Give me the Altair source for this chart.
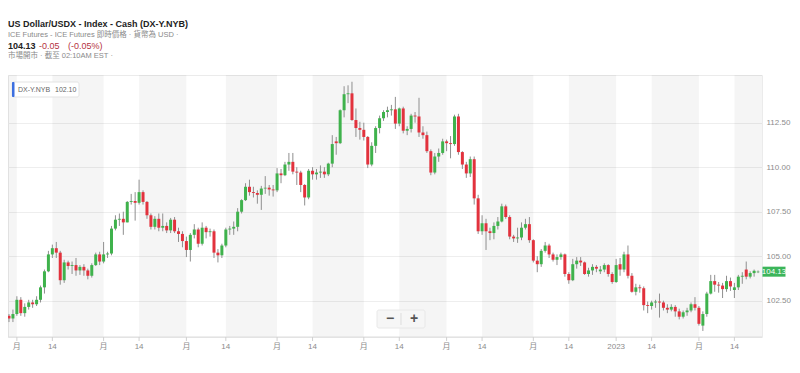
import altair as alt
import pandas as pd

# ---------------- data ----------------
start_day = "2022-05-30"
end_day = "2023-02-22"
closed_days = ["2022-12-26", "2023-01-02"]

open_ = [101.65, 101.50, 101.75, 102.55, 101.80, 102.15, 102.40, 102.30, 102.55, 103.25,
         104.15, 105.10, 105.45, 105.20, 103.65, 104.65, 104.45, 104.50, 104.20, 104.40,
         104.20, 103.90, 104.50, 105.10, 104.70, 105.10, 105.15, 106.55, 107.05, 107.10,
         106.90, 108.05, 108.10, 108.00, 108.60, 108.05, 107.30, 106.65, 107.10, 106.60,
         106.70, 106.45, 107.05, 106.40, 106.25, 105.85, 105.35, 106.20, 106.50, 105.70,
         106.60, 106.35, 106.40, 105.20, 105.05, 105.60, 106.50, 106.55, 106.65, 107.50,
         108.15, 108.90, 108.60, 108.55, 108.45, 108.80, 108.85, 108.75, 108.70, 109.65,
         109.55, 110.15, 110.30, 109.75, 109.70, 109.00, 108.30, 109.80, 109.60, 109.70,
         109.75, 109.60, 110.20, 111.45, 111.35, 113.20, 114.10, 114.15, 112.65, 112.20,
         112.10, 111.70, 110.15, 111.20, 112.20, 112.75, 113.10, 113.20, 113.25, 112.45,
         113.30, 112.05, 112.15, 112.90, 112.85, 111.95, 111.80, 110.90, 109.70, 110.60,
         110.80, 111.45, 111.35, 111.30, 112.85, 110.85, 110.15, 109.65, 110.45, 108.25,
         106.40, 106.85, 106.40, 106.30, 106.70, 106.95, 107.80, 107.20, 106.10, 106.00,
         106.05, 106.60, 106.80, 105.90, 104.75, 104.55, 105.30, 105.60, 105.10, 104.80,
         104.95, 105.10, 104.00, 103.65, 104.55, 104.75, 104.65, 104.00, 104.20, 104.40,
         104.15, 104.25, 104.50, 104.00, 103.55, 104.55, 104.25, 105.10, 103.90, 103.00,
         103.25, 103.20, 102.25, 102.20, 102.40, 102.45, 102.40, 102.10, 102.00, 102.15,
         101.90, 101.60, 101.85, 101.95, 102.30, 102.10, 101.10, 101.75, 102.90, 103.60,
         103.40, 103.35, 103.15, 103.60, 103.10, 103.25, 103.85, 104.25, 103.85, 104.05,
         104.10]
high = [101.75, 102.00, 102.75, 102.70, 102.35, 102.55, 102.55, 102.75, 103.35, 104.25,
        105.30, 105.65, 105.80, 105.30, 104.80, 104.75, 104.70, 104.90, 104.50, 104.55,
        104.30, 104.60, 105.20, 105.25, 105.80, 105.25, 106.70, 107.30, 107.40, 107.50,
        108.10, 108.50, 108.60, 109.30, 108.70, 108.10, 107.40, 107.25, 107.40, 107.40,
        106.90, 107.15, 107.20, 106.60, 106.40, 106.10, 106.30, 106.80, 106.60, 106.90,
        106.70, 106.55, 106.50, 105.40, 105.70, 106.60, 106.70, 106.95, 107.70, 108.20,
        109.10, 109.30, 108.90, 108.70, 108.95, 109.50, 109.00, 109.00, 109.95, 109.90,
        110.30, 110.80, 110.80, 110.00, 109.80, 109.05, 109.90, 110.00, 109.90, 110.10,
        110.00, 110.25, 111.80, 111.70, 113.25, 114.55, 114.60, 114.80, 113.30, 112.55,
        112.50, 111.75, 111.40, 112.30, 112.90, 113.20, 113.40, 113.50, 113.95, 113.35,
        113.40, 112.30, 113.00, 113.10, 113.90, 112.30, 112.00, 111.00, 110.80, 111.05,
        111.60, 111.55, 111.75, 112.95, 113.00, 110.90, 110.30, 110.60, 110.60, 108.45,
        107.30, 107.10, 106.60, 106.90, 107.20, 107.95, 107.90, 107.30, 106.20, 106.60,
        106.90, 107.10, 107.20, 105.95, 105.00, 105.40, 105.80, 105.70, 105.20, 105.10,
        105.20, 105.15, 104.10, 104.85, 104.95, 104.95, 104.70, 104.35, 104.55, 104.50,
        104.45, 104.60, 104.55, 104.10, 104.85, 104.90, 105.25, 105.60, 104.05, 103.45,
        103.40, 103.30, 102.45, 102.50, 102.55, 102.90, 102.50, 102.30, 102.30, 102.25,
        102.05, 101.95, 102.10, 102.40, 102.70, 102.20, 101.90, 103.00, 103.95, 103.95,
        103.55, 103.50, 103.90, 103.80, 103.50, 103.95, 104.10, 104.70, 104.15, 104.25,
        104.20]
low = [101.30, 101.30, 101.65, 101.65, 101.60, 102.00, 102.10, 102.20, 102.40, 102.90,
       104.10, 104.90, 104.90, 103.40, 103.50, 104.25, 104.00, 103.90, 103.95, 103.90,
       103.70, 103.80, 104.45, 104.50, 104.60, 104.90, 105.05, 106.45, 106.70, 106.20,
       106.90, 107.90, 107.00, 107.90, 107.90, 107.10, 106.50, 106.50, 106.40, 106.40,
       106.30, 106.30, 106.30, 105.80, 105.50, 104.95, 104.70, 106.00, 105.50, 105.60,
       106.00, 106.10, 104.90, 104.65, 104.90, 105.50, 106.20, 106.20, 106.40, 107.40,
       108.10, 108.40, 108.30, 107.95, 107.60, 108.50, 108.40, 108.35, 108.60, 109.10,
       109.50, 109.80, 109.60, 109.00, 108.60, 107.85, 108.20, 109.30, 109.30, 109.40,
       109.40, 109.50, 110.00, 110.70, 111.30, 112.80, 113.60, 112.60, 111.70, 111.55,
       111.50, 109.95, 110.05, 110.80, 111.90, 112.60, 112.80, 112.90, 112.15, 112.30,
       111.90, 111.80, 111.95, 112.50, 111.70, 111.60, 110.80, 109.55, 109.60, 110.30,
       110.70, 110.90, 110.50, 111.20, 110.70, 109.90, 109.40, 109.45, 107.90, 106.25,
       106.20, 105.35, 105.90, 105.95, 106.50, 106.90, 107.10, 105.95, 105.80, 105.75,
       105.90, 106.50, 105.75, 104.65, 104.10, 104.40, 105.20, 104.90, 104.70, 104.50,
       104.80, 103.85, 103.45, 103.60, 104.30, 104.45, 103.95, 103.85, 103.95, 104.10,
       104.00, 104.10, 103.85, 103.45, 103.50, 103.90, 104.10, 103.75, 102.95, 102.80,
       102.95, 101.95, 101.80, 102.00, 102.10, 101.55, 101.95, 101.80, 101.90, 101.60,
       101.45, 101.50, 101.65, 101.85, 101.95, 101.10, 100.80, 101.60, 102.85, 103.00,
       102.95, 102.65, 103.00, 103.05, 102.65, 103.10, 103.45, 103.70, 103.75, 103.85,
       104.05]
close = [101.50, 101.75, 102.55, 101.80, 102.15, 102.40, 102.30, 102.55, 103.25, 104.15,
         105.10, 105.45, 105.20, 103.65, 104.65, 104.45, 104.50, 104.20, 104.40, 104.20,
         103.90, 104.50, 105.10, 104.70, 105.10, 105.15, 106.55, 107.05, 107.10, 106.90,
         108.05, 108.10, 108.00, 108.60, 108.05, 107.30, 106.65, 107.10, 106.60, 106.70,
         106.45, 107.05, 106.40, 106.25, 105.85, 105.35, 106.20, 106.50, 105.70, 106.60,
         106.35, 106.40, 105.20, 105.05, 105.60, 106.50, 106.55, 106.65, 107.50, 108.15,
         108.90, 108.60, 108.55, 108.45, 108.80, 108.85, 108.75, 108.70, 109.65, 109.55,
         110.15, 110.30, 109.75, 109.70, 109.00, 108.30, 109.80, 109.60, 109.70, 109.75,
         109.60, 110.20, 111.30, 111.35, 113.20, 114.10, 114.15, 112.65, 112.20, 112.10,
         111.70, 110.15, 111.20, 112.20, 112.75, 113.10, 113.20, 113.25, 112.45, 113.30,
         112.05, 112.15, 112.90, 112.85, 111.95, 111.80, 110.90, 109.70, 110.60, 110.80,
         111.45, 111.35, 111.30, 112.85, 110.85, 110.15, 109.65, 110.45, 108.25, 106.40,
         106.85, 106.40, 106.30, 106.70, 106.95, 107.80, 107.20, 106.10, 106.00, 106.05,
         106.60, 106.80, 105.90, 104.75, 104.55, 105.30, 105.60, 105.10, 104.80, 104.95,
         105.10, 104.00, 103.65, 104.55, 104.75, 104.65, 104.00, 104.20, 104.40, 104.30,
         104.25, 104.50, 104.00, 103.55, 104.50, 104.25, 105.10, 103.90, 103.00, 103.25,
         103.20, 102.25, 102.20, 102.40, 102.45, 102.40, 102.10, 102.00, 102.15, 101.90,
         101.60, 101.85, 101.95, 102.30, 102.10, 101.20, 101.75, 102.90, 103.60, 103.40,
         103.35, 103.15, 103.60, 103.30, 103.25, 103.85, 103.90, 103.85, 104.05, 104.18,
         104.13]

y_ticks = [102.5, 105.0, 107.5, 110.0, 112.5]
y_domain = [100.46, 115.18]
x_domain = [-0.25, 191.0]
month_label = "月"
year_label = "2023"
mid_label = "14"

title_text = "US Dollar/USDX - Index - Cash (DX-Y.NYB)"
sub_text = "ICE Futures - ICE Futures 即時價格 · 貨幣為 USD ·"
price_text = "104.13"
change_text = "-0.05"
pct_text = "(-0.05%)"
status_text = "市場開市 ·  截至 02:10AM EST ·"
legend_name = "DX-Y.NYB"
legend_value = "102.10"

# ---------------- frame ----------------
dates = [d for d in pd.bdate_range(start_day, end_day) if d.strftime("%Y-%m-%d") not in closed_days]
N = len(dates)
df = pd.DataFrame({"i": list(range(N)), "open": open_[:N], "high": high[:N],
                   "low": low[:N], "close": close[:N]})
df["dir"] = ["up" if c >= o else "down" for o, c in zip(df["open"], df["close"])]

tick_idx, tick_lab = [], []
months = sorted({(d.year, d.month) for d in dates})
for (yy, mm) in months:
    md = [(k, d) for k, d in enumerate(dates) if d.year == yy and d.month == mm]
    k0, d0 = md[0]
    if d0.day <= 7:
        tick_idx.append(k0)
        tick_lab.append(year_label if mm == 1 else month_label)
    mids = [(k, d) for k, d in md if 14 <= d.day <= 20]
    if mids:
        tick_idx.append(mids[0][0])
        tick_lab.append(mid_label)
ticks = pd.DataFrame({"i": tick_idx, "lab": tick_lab})

bounds = [x_domain[0]] + tick_idx + [x_domain[1]]
bands = pd.DataFrame([{"s": bounds[k], "e": bounds[k + 1]} for k in range(len(bounds) - 1) if k % 2 == 0])

FONT = "Liberation Sans, Arial, Noto Sans CJK TC, sans-serif"
W, H = 754, 262
GREEN = "#3fb24c"
RED = "#e2323d"
AXIS_GREY = "#8c8c8c"

xs = alt.Scale(domain=x_domain, nice=False, zero=False, padding=0)
ys = alt.Scale(domain=y_domain, nice=False, zero=False, padding=0)

y_axis = alt.Axis(orient="right", values=y_ticks, format=".2f", domain=False, ticks=False,
                  labelColor=AXIS_GREY, labelFontSize=8, labelPadding=4, gridColor="#eeeeee",
                  labelFont=FONT, title="")

band_layer = alt.Chart(bands).mark_rect(color="#000000", opacity=0.04).encode(
    x=alt.X("s:Q", scale=xs, axis=None),
    x2="e:Q",
    y=alt.value(0),
    y2=alt.value(H),
)

wicks = alt.Chart(df).mark_rule(color="#8f8f8f", strokeWidth=1).encode(
    x=alt.X("i:Q", scale=xs, axis=None),
    y=alt.Y("low:Q", scale=ys, axis=y_axis, title=""),
    y2="high:Q",
)

bodies = alt.Chart(df).mark_bar(size=3).encode(
    x=alt.X("i:Q", scale=xs, axis=None),
    y=alt.Y("open:Q", scale=ys, axis=y_axis, title=""),
    y2="close:Q",
    color=alt.Color("dir:N", scale=alt.Scale(domain=["up", "down"], range=[GREEN, RED]), legend=None),
)

# bottom axis drawn from the tick table through the shared x scale
x_domain_line = alt.Chart(pd.DataFrame({"k": [0]})).mark_rule(color="#dcdcdc").encode(
    x=alt.value(0), x2=alt.value(W), y=alt.value(H))
x_tick_marks = alt.Chart(ticks).mark_rule(color="#d0d0d0").encode(
    x=alt.X("i:Q", scale=xs, axis=None), y=alt.value(H), y2=alt.value(H + 4))
x_tick_labels = alt.Chart(ticks).mark_text(fontSize=8, color=AXIS_GREY, font=FONT,
                                           align="center", baseline="middle").encode(
    x=alt.X("i:Q", scale=xs, axis=None), y=alt.value(H + 10), text="lab:N")

last = pd.DataFrame({"p": [close[N - 1]], "t": ["%.2f" % close[N - 1]]})
tag = alt.Chart(last).mark_tick(orient="horizontal", size=23, thickness=10, color="#3cb55a",
                                opacity=1).encode(
    x=alt.value(766), y=alt.Y("p:Q", scale=ys, axis=y_axis, title=""))
tag_text = alt.Chart(last).mark_text(color="white", fontSize=8, font=FONT, align="center",
                                     baseline="middle").encode(
    x=alt.value(766), y=alt.Y("p:Q", scale=ys, axis=y_axis, title=""), text="t:N")


def txt(s, x, y, size, color, weight="normal", align="left"):
    return alt.Chart(pd.DataFrame({"t": [s]})).mark_text(
        fontSize=size, color=color, fontWeight=weight, font=FONT, align=align, baseline="middle"
    ).encode(x=alt.value(x), y=alt.value(y), text="t:N")


one = pd.DataFrame({"k": [0]})
legend_box = alt.Chart(one).mark_rect(fill="white", stroke="#e3e3e3", cornerRadius=2).encode(
    x=alt.value(4), x2=alt.value(71), y=alt.value(7), y2=alt.value(22))
legend_bar = alt.Chart(one).mark_rect(fill="#3c6fe0", cornerRadius=1).encode(
    x=alt.value(4), x2=alt.value(6.5), y=alt.value(7), y2=alt.value(22))

zoom_box = alt.Chart(one).mark_rect(fill="#f6f6f6", stroke="#e8e8e8", cornerRadius=2).encode(
    x=alt.value(369), x2=alt.value(417), y=alt.value(235), y2=alt.value(253))
zoom_div = alt.Chart(one).mark_rule(color="#dddddd").encode(
    x=alt.value(393), y=alt.value(238), y2=alt.value(250))

layers = [
    band_layer, wicks, bodies, x_domain_line, x_tick_marks, x_tick_labels, tag, tag_text,
    legend_box, legend_bar,
    txt(legend_name, 10, 14.5, 7, "#666666"),
    txt(legend_value, 47, 14.5, 7, "#666666"),
    zoom_box, zoom_div,
    txt("−", 382, 244, 14, "#555555", "bold", "center"),
    txt("+", 406, 244, 14, "#555555", "bold", "center"),
    txt(title_text, 0, -51, 9, "#222222", "bold"),
    txt(sub_text, 0, -40.5, 7.5, "#8a8a8a"),
    txt(price_text, 0, -29, 9, "#222222", "bold"),
    txt(change_text, 31, -29, 9, "#b5333f"),
    txt(pct_text, 60, -29, 9, "#b5333f"),
    txt(status_text, 0, -19, 7.5, "#8a8a8a"),
]

chart = alt.layer(*layers).properties(
    width=W, height=H,
    autosize=alt.AutoSizeParams(type="none"),
    padding={"left": 0, "top": 67, "right": 30, "bottom": 28},
    background="white",
).configure_view(stroke="#ebebeb")

chart.save("out.html", embed_options={"renderer": "svg", "actions": False})
